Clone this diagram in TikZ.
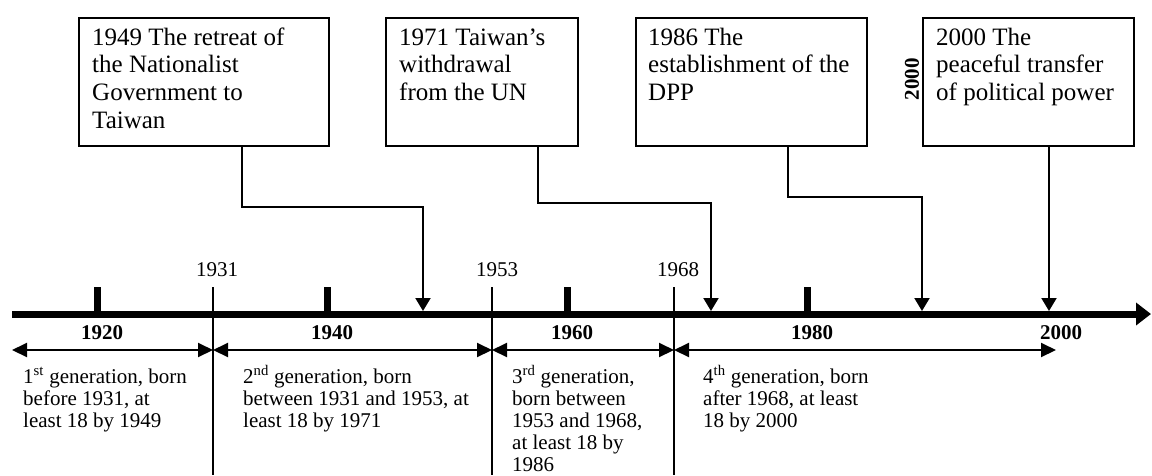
\documentclass[tikz,border=0pt]{standalone}
\usepackage{fontspec}
\setmainfont{Liberation Serif}
\usetikzlibrary{arrows.meta}
\newcommand\mytopbox[1]{\parbox[t]{300pt}{\raggedright #1}}
\begin{document}
\begin{tikzpicture}[x=1pt,y=-1pt,
  axisline/.style={line width=7pt, -{Triangle[length=15pt,width=22pt]}},
  tickmark/.style={line width=7pt},
  divider/.style={line width=1.5pt},
  spanarrow/.style={line width=2pt, {Triangle[length=15pt,width=14pt]}-{Triangle[length=15pt,width=14pt]}},
  link/.style={line width=2pt, -{Triangle[length=13pt,width=15pt]}},
  evbox/.style={draw, line width=1.5pt, inner sep=0, anchor=north west},
  evtext/.style={font=\fontsize{25}{27.7}\selectfont, inner sep=0, anchor=base west},
  gentext/.style={font=\fontsize{21}{22.2}\selectfont, inner sep=0, anchor=base west},
  yearbold/.style={font=\bfseries\fontsize{21}{24}\selectfont, inner sep=0, anchor=base},
  yearplain/.style={font=\fontsize{21}{24}\selectfont, inner sep=0, anchor=base}]
\fill[white] (0,0) rectangle (1152,475);
\useasboundingbox (0,0) rectangle (1152,475);

% event boxes
\node[evbox, minimum width=250pt, minimum height=128pt] (b1) at (78,17) {};
\node[evbox, minimum width=192pt, minimum height=128pt] (b2) at (385,17) {};
\node[evbox, minimum width=231pt, minimum height=128pt] (b3) at (635,17) {};
\node[evbox, minimum width=211pt, minimum height=128pt] (b4) at (922,17) {};
\node[evtext] (t1) at (92,45) {\mytopbox{1949 The retreat of\\the Nationalist\\Government to\\Taiwan}};
\node[evtext] (t2) at (399,45) {\mytopbox{1971 Taiwan’s\\withdrawal\\from the UN}};
\node[evtext] (t3) at (648,45) {\mytopbox{1986 The\\establishment of the\\DPP}};
\node[evtext] (t4) at (936,45) {\mytopbox{2000 The\\peaceful transfer\\of political power}};
\node[font=\bfseries\fontsize{21}{24}\selectfont, inner sep=0, rotate=90] (r2000) at (912,79) {2000};

% axis
\coordinate (axL) at (12,314);
\coordinate (axR) at (1151,314);
\draw[axisline] (axL) -- (axR);

% ticks
\foreach \x/\n in {97/k1,327/k2,567/k3,807/k4}{
  \coordinate (\n t) at (\x,287);
  \coordinate (\n b) at (\x,314);
  \draw[tickmark] (\n t) -- (\n b);
}

% year labels
\node[yearbold] (y1920) at (102,339) {1920};
\node[yearbold] (y1940) at (332,339) {1940};
\node[yearbold] (y1960) at (572,339) {1960};
\node[yearbold] (y1980) at (812,339) {1980};
\node[yearbold] (y2000) at (1061,339) {2000};

\node[yearplain] (y1931) at (217,276) {1931};
\node[yearplain] (y1953) at (497,276) {1953};
\node[yearplain] (y1968) at (678,276) {1968};

% dividers
\coordinate (d1t) at (213,287); \coordinate (d1b) at (213,475);
\coordinate (d2t) at (492,287); \coordinate (d2b) at (492,475);
\coordinate (d3t) at (674,287); \coordinate (d3b) at (674,475);
\draw[divider] (d1t) -- (d1b);
\draw[divider] (d2t) -- (d2b);
\draw[divider] (d3t) -- (d3b);

% generation spans
\coordinate (g0) at (12,350);
\coordinate (g1) at (213,350);
\coordinate (g2) at (492,350);
\coordinate (g3) at (674,350);
\coordinate (g4) at (1056,350);
\draw[spanarrow] (g0) -- (g1);
\draw[spanarrow] (g1) -- (g2);
\draw[spanarrow] (g2) -- (g3);
\draw[spanarrow] (g3) -- (g4);

% generation texts
\node[gentext] (n1) at (23,383) {\mytopbox{1\textsuperscript{st} generation, born\\before 1931, at\\least 18 by 1949}};
\node[gentext] (n2) at (243,383) {\mytopbox{2\textsuperscript{nd} generation, born\\between 1931 and 1953, at\\least 18 by 1971}};
\node[gentext] (n3) at (512,383) {\mytopbox{3\textsuperscript{rd} generation,\\born between\\1953 and 1968,\\at least 18 by\\1986}};
\node[gentext] (n4) at (703,383) {\mytopbox{4\textsuperscript{th} generation, born\\after 1968, at least\\18 by 2000}};

% connectors
\coordinate (s1) at (242,145); \coordinate (h1) at (423,207); \coordinate (a1) at (423,311);
\coordinate (s2) at (538,145); \coordinate (h2) at (711,203); \coordinate (a2) at (711,311);
\coordinate (s3) at (788,145); \coordinate (h3) at (922,197); \coordinate (a3) at (922,311);
\coordinate (s4) at (1049,145); \coordinate (a4) at (1049,311);
\draw[link] (s1) |- (h1) -- (a1);
\draw[link] (s2) |- (h2) -- (a2);
\draw[link] (s3) |- (h3) -- (a3);
\draw[link] (s4) -- (a4);
\end{tikzpicture}
\end{document}
